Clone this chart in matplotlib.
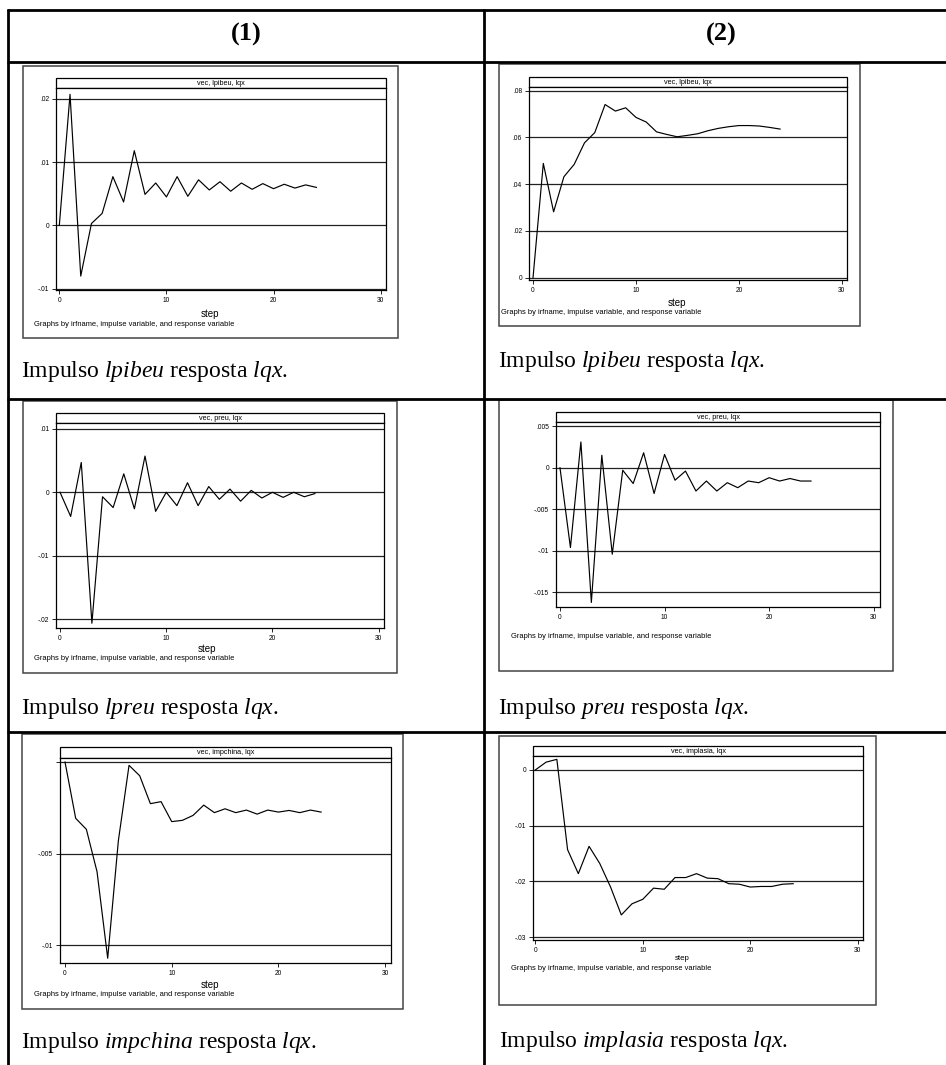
import numpy as np
import matplotlib.pyplot as plt
from matplotlib.patches import Rectangle

# ---------------- data ----------------
steps = np.arange(25)

lpibeu_col1 = [0, .0207, -.0080, .0003, .0019, .0077, .0037, .0118, .0049, .0067,
               .0045, .0077, .0046, .0072, .0056, .0069, .0054, .0067, .0057, .0066,
               .0058, .0065, .0059, .0064, .0060]
lpibeu_col2 = [0, .0489, .0282, .0432, .0485, .0577, .0621, .0741, .0713, .0727,
               .0686, .0666, .0624, .0613, .0603, .0609, .0616, .0629, .0639, .0646,
               .0651, .0651, .0649, .0643, .0636]
lpreu = [0, -.0038, .0047, -.0206, -.0007, -.0024, .0029, -.0026, .0057, -.0030,
         .0000, -.0021, .0015, -.0021, .0009, -.0011, .0005, -.0014, .0003, -.0009,
         .0000, -.0008, .0000, -.0007, -.0002]
preu = [0, -.0096, .0031, -.0162, .0015, -.0104, -.0003, -.0019, .0018, -.0031,
        .0016, -.0015, -.0004, -.0028, -.0016, -.0028, -.0018, -.0024, -.0016, -.0018,
        -.0012, -.0016, -.0013, -.0016, -.0016]
impchina = [0, -.00307, -.00367, -.00598, -.0107, -.00429, -.00018, -.00075, -.00227, -.00216,
            -.00325, -.00318, -.00291, -.00235, -.00276, -.00255, -.00276, -.00262, -.00284, -.00262,
            -.00273, -.00264, -.00276, -.00262, -.00273]
implasia = [0, .0014, .0019, -.0143, -.0186, -.0137, -.0168, -.0210, -.0260, -.0240,
            -.0232, -.0212, -.0214, -.0193, -.0193, -.0186, -.0194, -.0195, -.0204, -.0205,
            -.0210, -.0209, -.0209, -.0205, -.0204]

strip_titles = ["vec, lpibeu, lqx", "vec, lpibeu, lqx", "vec, preu, lqx",
                "vec, preu, lqx", "vec, impchina, lqx", "vec, implasia, lqx"]
impulse_names = ["lpibeu", "lpibeu", "lpreu", "preu", "impchina", "implasia"]
col_headers = ["(1)", "(2)"]
note = "Graphs by irfname, impulse variable, and response variable"

# ---------------- figure, background axes in pixel coords ----------------
W, H = 946, 1065
plt.rcParams['mathtext.fontset'] = 'custom'
plt.rcParams['mathtext.rm'] = 'Liberation Serif'
plt.rcParams['mathtext.it'] = 'Liberation Serif:italic'

fig = plt.figure(figsize=(W / 100, H / 100), dpi=100)
bg = fig.add_axes([0, 0, 1, 1], zorder=-1)
bg.set_xlim(0, W)
bg.set_ylim(H, 0)
bg.axis('off')

# table rules
for yy in [10, 62, 399, 732]:
    bg.plot([7, W], [yy, yy], color='black', lw=2, solid_capstyle='butt')
for xx in [8, 484]:
    bg.plot([xx, xx], [9, H], color='black', lw=2, solid_capstyle='butt')

bg.text(246, 34, col_headers[0], ha='center', va='center', fontsize=19,
        fontweight='bold', family='Liberation Serif')
bg.text(721, 34, col_headers[1], ha='center', va='center', fontsize=19,
        fontweight='bold', family='Liberation Serif')


def stata_fmt(v):
    if abs(v) < 1e-12:
        return "0"
    s = f"{v:.3f}".rstrip('0')
    return s.replace("0.", ".")


def panel(box, plot, strip_top, title, y, yticks, ylim, xlim,
          step_xy, note_xy, step_size=7, zero_label=True):
    bx0, by0, bx1, by1 = box
    bg.add_patch(Rectangle((bx0, by0), bx1 - bx0, by1 - by0, fill=False,
                           ec='#444444', lw=1.1))
    px0, py0, px1, py1 = plot
    bg.add_patch(Rectangle((px0, strip_top), px1 - px0, py0 - strip_top,
                           fill=False, ec='black', lw=0.9))
    bg.text((px0 + px1) / 2, (strip_top + py0) / 2 + 0.5, title, ha='center',
            va='center', fontsize=5.2, family='Liberation Sans')

    ax = fig.add_axes([px0 / W, 1 - py1 / H, (px1 - px0) / W, (py1 - py0) / H])
    for v in yticks:
        ax.axhline(v, color='#222222', lw=0.9, zorder=1)
    ax.plot(steps, y, color='black', lw=0.85, zorder=3)
    ax.set_xlim(xlim)
    ax.set_ylim(ylim)
    ax.set_xticks([0, 10, 20, 30])
    ax.set_yticks(yticks)
    labels = [stata_fmt(v) for v in yticks]
    if not zero_label:
        labels = ['' if l == '0' else l for l in labels]
    ax.set_yticklabels(labels)
    ax.tick_params(labelsize=4.8, length=3, width=0.6, pad=2)
    for tl in ax.get_xticklabels() + ax.get_yticklabels():
        tl.set_family('Liberation Sans')
    for sp in ax.spines.values():
        sp.set_linewidth(0.9)
        sp.set_color('black')

    if step_xy is not None:
        bg.text(step_xy[0], step_xy[1], "step", ha='center', va='center',
                fontsize=step_size, family='Liberation Sans')
    bg.text(note_xy[0], note_xy[1], note, ha='left', va='center',
            fontsize=5.4, family='Liberation Sans')
    return ax


# row 1
panel((23, 66, 398, 338), (56, 88, 386, 290), 78, strip_titles[0], lpibeu_col1,
      [-.01, 0, .01, .02], (-.0102, .0217), (-0.31, 30.5), (210, 314), (34, 324))
panel((499, 64, 860, 326), (529, 87, 847, 280), 77, strip_titles[1], lpibeu_col2,
      [0, .02, .04, .06, .08], (-.00098, .0816), (-0.39, 30.5), (677, 303), (501, 312))

# row 2
panel((23, 401, 397, 673), (56, 423, 384, 628), 413, strip_titles[2], lpreu,
      [-.02, -.01, 0, .01], (-.02135, .0109), (-0.38, 30.5), (207, 649), (34, 659))
panel((499, 400, 893, 671), (556, 422, 880, 607), 412, strip_titles[3], preu,
      [-.015, -.01, -.005, 0, .005], (-.01675, .0055), (-0.38, 30.6), None, (511, 636))

# row 3
panel((22, 734, 403, 1009), (60, 758, 391, 963), 747, strip_titles[4], impchina,
      [-.01, -.005, 0], (-.01096, .00022), (-0.47, 30.55), (210, 985), (34, 995),
      zero_label=False)
panel((499, 736, 876, 1005), (533, 756, 863, 940), 746, strip_titles[5], implasia,
      [-.03, -.02, -.01, 0], (-.0305, .0025), (-0.22, 30.5), (682, 959), (511, 969),
      step_size=5.7)

# captions under each graph
caption_pos = [(21, 377), (498, 367), (21, 714), (498, 714), (21, 1048), (499, 1047)]
for name, (cx, cy) in zip(impulse_names, caption_pos):
    bg.text(cx, cy, r"Impulso $\mathit{" + name + r"}$ resposta $\mathit{lqx}$.",
            ha='left', va='baseline', fontsize=17, family='Liberation Serif')

fig.savefig("out.png", dpi=100)
